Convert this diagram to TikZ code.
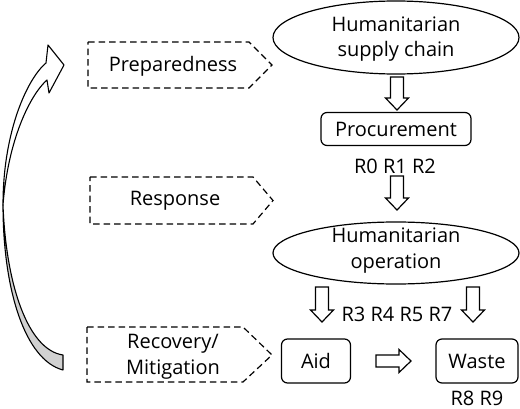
\documentclass[tikz,border=0pt]{standalone}
\usepackage{fontspec}
\setmainfont{Open Sans}
\usetikzlibrary{shapes.geometric,calc}
\newcommand\bdown[3]{% x, top y, bottom y
  \draw[barrow] ($(#1,#2)+(-6.5,0)$) -- ($(#1,#3)+(-6.5,-12)$) -- ($(#1,#3)+(-11.5,-12)$) -- (#1,#3) -- ($(#1,#3)+(11.5,-12)$) -- ($(#1,#3)+(6.5,-12)$) -- ($(#1,#2)+(6.5,0)$) -- cycle;}
\begin{document}
\begin{tikzpicture}[x=1pt,y=-1pt,
  txt/.style={font=\fontsize{20}{25.5}\selectfont, align=center, inner sep=0pt},
  ell/.style={ellipse, draw, line width=1.2pt, inner sep=0pt},
  rbox/.style={draw, rounded corners=6pt, line width=1.2pt, inner sep=0pt, align=center, font=\fontsize{20}{25.5}\selectfont},
  dbox/.style={draw, dash pattern=on 6.5pt off 4pt, line width=1.2pt},
  barrow/.style={draw, line width=1.2pt, fill=white, line join=miter},
  curv/.style={line width=1.1pt, line join=round},
]
\useasboundingbox (0,0) rectangle (520,409);

% right column
\node[ell, minimum width=246pt, minimum height=73pt] (hsc) at (396,37.5) {};
\node[txt] (hsct) at (396,39) {Humanitarian\\supply chain};
\node[rbox, minimum width=150pt, minimum height=33pt] (proc) at (396,129) {Procurement};
\node[txt] (r012) at (395,166) {R0 R1 R2};
\node[ell, minimum width=246pt, minimum height=62pt] (hop) at (396,253) {};
\node[txt] (hopt) at (396,250.5) {Humanitarian\\operation};
\node[txt] (r3457) at (397,314) {R3 R4 R5 R7};
\node[rbox, minimum width=69pt, minimum height=44pt] (aid) at (316,361) {Aid};
\node[rbox, minimum width=82pt, minimum height=44pt] (waste) at (477,361) {Waste};
\node[txt] (r89) at (477,398) {R8 R9};

% block arrows
\coordinate (a1t) at (hsc.south);
\coordinate (a1b) at (proc.north);
\bdown{397}{77}{110}
\bdown{397}{176}{210}
\bdown{322}{287}{322}
\bdown{473}{287}{322}
\draw[barrow] (376,355) -- (399,355) -- (399,349.5) -- (411,361) -- (399,372.5) -- (399,367) -- (376,367) -- cycle;

% dashed phase shapes
\draw[dbox] (88,42) -- (249,42) -- (272,65) -- (249,88) -- (88,88) -- cycle;
\node[txt] (prep) at (173,66) {Preparedness};
\draw[dbox] (90,177) -- (253,177) -- (273,200.5) -- (253,224) -- (90,224) -- cycle;
\node[txt] (resp) at (175,201) {Response};
\draw[dbox] (87,327) -- (243,327) -- (272,355) -- (243,382) -- (87,382) -- cycle;
\node[txt] (recov) at (173,357) {Recovery/\\Mitigation};

% curved arrow
\draw[curv, fill=black!18] (3,205) .. controls (3,290) and (25,360) .. (63,370) -- (63,355) .. controls (28,350) and (6,285) .. (3,205) -- cycle;
\draw[curv, fill=white] (46,63) .. controls (28,78) and (3,130) .. (3,205) .. controls (8,140) and (30,95) .. (47,80) -- (49,93) -- (64,65) -- (48,45) -- cycle;
\end{tikzpicture}
\end{document}
